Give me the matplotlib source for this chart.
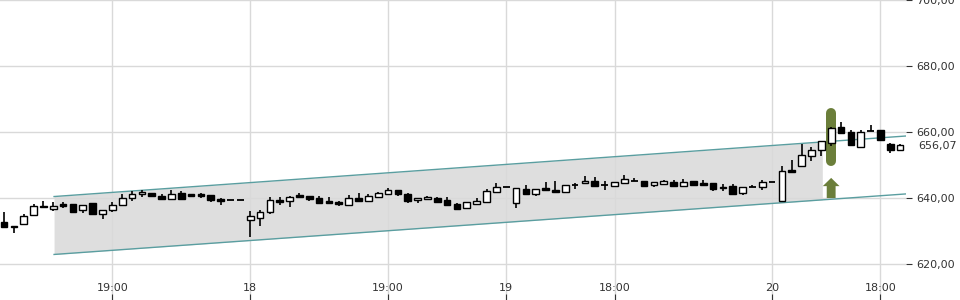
import matplotlib
matplotlib.use("Agg")
import matplotlib.pyplot as plt
import numpy as np

# candle data (one per bar)
opens = [632.8, 631.5, 632.0, 634.8, 637.6, 636.8, 638.1, 638.3, 636.4, 638.6,
         635.1, 636.3, 637.9, 639.9, 641.1, 641.4, 640.7, 639.6, 641.6, 641.1,
         641.3, 640.9, 639.7, 639.3, 639.3, 633.2, 633.8, 635.7, 639.5, 639.0,
         640.8, 640.5, 640.0, 639.1, 638.8, 637.8, 640.0, 639.2, 640.4, 641.3,
         642.3, 641.2, 639.3, 639.6, 639.9, 639.5, 638.3, 636.9, 638.3, 638.7,
         641.7, 643.4, 638.4, 642.6, 641.3, 643.0, 642.4, 641.7, 643.8, 644.5,
         645.2, 643.8, 643.7, 644.5, 645.1, 645.2, 643.8, 644.2, 644.8, 643.7,
         645.1, 644.5, 644.5, 643.4, 643.7, 641.6, 643.2, 643.2, 644.8, 639.0,
         648.5, 649.6, 652.8, 654.6, 656.8, 661.4, 659.9, 655.4, 660.3, 660.5,
         656.3, 654.5]
highs = [635.8, 631.5, 635.2, 638.2, 639.1, 638.7, 638.7, 638.3, 637.9, 638.6,
         636.3, 638.7, 641.1, 642.1, 642.4, 641.4, 641.2, 642.4, 642.0, 641.2,
         641.6, 640.9, 640.0, 639.3, 639.3, 636.1, 636.5, 640.2, 640.2, 640.7,
         641.6, 640.5, 640.6, 640.2, 639.1, 640.9, 641.6, 641.2, 641.9, 642.9,
         642.3, 641.6, 640.0, 640.6, 640.3, 640.3, 638.6, 638.7, 639.9, 642.6,
         644.6, 643.4, 642.9, 643.9, 642.6, 644.8, 645.2, 643.8, 644.6, 646.7,
         646.3, 645.2, 644.8, 647.0, 646.0, 645.2, 644.9, 645.5, 645.5, 645.8,
         645.1, 645.5, 644.5, 644.2, 644.2, 643.2, 643.9, 645.5, 644.8, 649.6,
         651.5, 656.4, 655.5, 657.4, 661.4, 662.9, 660.5, 660.5, 662.1, 660.5,
         656.8, 656.4]
lows = [630.9, 629.3, 632.0, 634.8, 637.2, 636.2, 637.1, 635.8, 635.4, 635.2,
        633.5, 635.7, 637.9, 639.2, 640.4, 640.5, 639.6, 639.6, 639.8, 640.2,
        640.0, 638.8, 638.0, 639.3, 639.3, 628.3, 631.6, 635.1, 638.0, 637.4,
        640.4, 639.1, 638.6, 638.6, 637.6, 637.8, 639.2, 639.2, 640.4, 641.3,
        640.7, 638.6, 638.6, 639.6, 638.9, 637.8, 636.6, 636.9, 638.1, 638.7,
        641.7, 643.4, 637.1, 641.1, 640.7, 642.5, 641.7, 641.7, 642.8, 644.5,
        643.5, 642.5, 643.7, 644.5, 645.1, 643.5, 643.2, 643.8, 643.5, 643.7,
        643.9, 643.8, 642.2, 642.1, 641.2, 641.0, 643.2, 642.5, 644.8, 639.0,
        648.0, 649.6, 651.2, 652.8, 655.8, 659.6, 656.0, 655.4, 660.3, 657.3,
        653.5, 654.5]
closes = [631.1, 631.1, 634.5, 637.6, 637.2, 637.6, 637.6, 635.8, 637.9, 635.2,
          636.3, 637.9, 640.0, 641.2, 641.9, 640.5, 639.6, 641.2, 639.8, 640.5,
          640.7, 639.5, 639.2, 639.3, 639.3, 634.5, 635.8, 639.3, 638.9, 640.3,
          640.4, 639.7, 638.6, 638.6, 638.1, 639.9, 639.2, 640.5, 641.4, 642.3,
          641.1, 639.2, 640.0, 640.3, 638.9, 637.8, 636.6, 638.7, 639.1, 642.1,
          643.2, 643.4, 642.9, 641.1, 642.6, 642.5, 641.7, 643.8, 643.8, 645.1,
          643.5, 643.8, 644.8, 645.7, 645.1, 643.5, 644.9, 645.1, 643.5, 644.8,
          643.9, 643.8, 642.8, 643.0, 641.2, 643.2, 643.2, 644.9, 644.8, 648.1,
          648.0, 653.0, 654.5, 657.2, 661.1, 659.6, 656.0, 660.1, 660.3, 657.6,
          654.5, 656.07]

xtick_pos = [11, 25, 39, 51, 62, 78, 89]
xtick_labels = ["19:00", "18", "19:00", "19", "18:00", "20", "18:00"]
yticks = [620, 640, 660, 680, 700]
last_price = 656.07

# trend channel (start/end bar, upper and lower values at start, slope per bar)
chan_start, chan_fill_end, chan_end = 5.08, 83.1, 91.6
chan_upper0, chan_lower0, chan_slope = 640.45, 622.9, 0.212

# signal marker
sig_idx = 84
sig_bar = (649.7, 667.3)
arrow_base, arrow_top = 640.0, 646.1

green = "#6b7e3a"
teal = "#5a9ea0"
txt = "#333333"

fig = plt.figure(figsize=(9.6, 3.0), dpi=100)
ax = fig.add_axes([0, 0, 906 / 960, 1])
ax.set_xlim(-0.41, 91.6)
ax.set_ylim(609.1, 700.0)

# channel
xs = np.array([chan_start, chan_end])
ax.plot(xs, chan_upper0 + chan_slope * (xs - chan_start), color=teal, lw=1, zorder=2)
ax.plot(xs, chan_lower0 + chan_slope * (xs - chan_start), color=teal, lw=1, zorder=2)
xf = np.array([chan_start, chan_fill_end])
ax.fill_between(xf, chan_lower0 + chan_slope * (xf - chan_start),
                chan_upper0 + chan_slope * (xf - chan_start),
                color="#dedede", lw=0, zorder=0)

# signal bar (rounded) and arrow
capr = 5 / 3.3
ax.plot([sig_idx, sig_idx], [sig_bar[0] + capr, sig_bar[1] - capr], color=green,
        lw=7.2, solid_capstyle="round", zorder=3)
ax.arrow(sig_idx, arrow_base, 0, arrow_top - arrow_base, width=0.9, head_width=1.7,
         head_length=2.5, length_includes_head=True, color=green, lw=0, zorder=3)

# candles
idx = np.arange(len(opens))
o = np.array(opens); h = np.array(highs); l = np.array(lows); c = np.array(closes)
ax.vlines(idx, l, h, color="black", lw=1.2, zorder=4)
w = 0.68
for i in idx:
    if abs(c[i] - o[i]) < 0.05:
        ax.hlines(o[i], i - w / 2, i + w / 2, color="black", lw=1.3, zorder=5)
        continue
    up = c[i] > o[i]
    bot = min(o[i], c[i])
    ht = max(abs(c[i] - o[i]), 0.45)
    ax.bar(i, ht, bottom=bot, width=w, color="white" if up else "black",
           edgecolor="black", lw=1.0, zorder=5)

# axes styling
for s in ax.spines.values():
    s.set_visible(False)
ax.set_axisbelow("line")
ax.grid(True, color="#d9d9d9", lw=1)
ax.set_xticks(xtick_pos)
ax.set_xticklabels(xtick_labels)
ax.set_yticks(yticks)
ax.set_yticklabels([f"{v:.2f}".replace(".", ",") for v in yticks])
ax.yaxis.tick_right()
ax.tick_params(axis="y", direction="out", length=4.5, width=0.8, pad=3,
               labelsize=8, colors=txt)
ax.tick_params(axis="x", direction="in", length=4, width=0.8, pad=-12.5,
               labelsize=8, colors=txt)
ax.annotate(f"{last_price:.2f}".replace(".", ","), (1, last_price),
            xycoords=("axes fraction", "data"), xytext=(12, -1),
            textcoords="offset pixels", va="center", ha="left", fontsize=8,
            color=txt)

fig.savefig("out.png", dpi=100)
